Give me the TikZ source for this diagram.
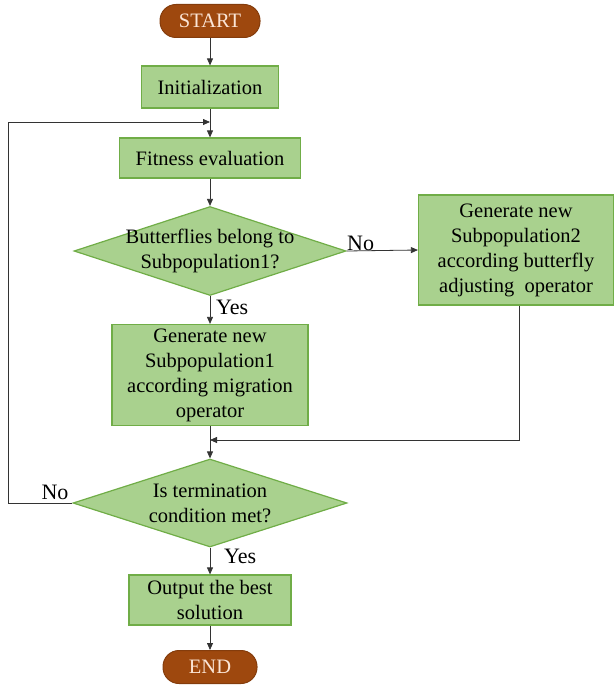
\documentclass[tikz,border=0pt]{standalone}
\usepackage{fontspec}
\setmainfont{Liberation Serif}
\usetikzlibrary{shapes.geometric,arrows.meta}
\definecolor{boxfill}{HTML}{A9D18E}
\definecolor{boxline}{HTML}{70AD47}
\definecolor{termfill}{HTML}{9E480E}
\definecolor{termline}{HTML}{843C0C}
\definecolor{termtext}{HTML}{FBE5D6}
\tikzset{
  txt/.style={font=\fontsize{20.5}{25}\selectfont},
  procbox/.style={txt, draw=boxline, fill=boxfill, line width=1.2pt, align=center, inner sep=0pt},
  decbox/.style={draw=boxline, fill=boxfill, line width=1.2pt, diamond, inner sep=0pt},
  dectext/.style={txt, align=center, inner sep=0pt},
  termbox/.style={txt, draw=termline, fill=termfill, line width=1pt, rounded corners=16pt, text=termtext, inner sep=0pt},
  flow/.style={draw=black!80, line width=0.8pt, -{Triangle[length=7pt,width=6pt]}},
  lbl/.style={font=\fontsize{22}{24}\selectfont, inner sep=0pt}
}
\begin{document}
\begin{tikzpicture}[x=1pt,y=-1pt]
\useasboundingbox (0,0) rectangle (614,685);
% terminals and process steps
\node[termbox, minimum width=100, minimum height=33] (start) at (210,21) {START};
\node[procbox, minimum width=137, minimum height=42] (init) at (210,87) {Initialization};
\node[procbox, minimum width=181, minimum height=40] (fit) at (210,158) {Fitness evaluation};
\node[decbox, minimum width=272, minimum height=89] (dec1) at (210,251) {};
\node[dectext] (dec1t) at (dec1.center) {Butterflies belong to\\Subpopulation1?};
\node[procbox, minimum width=195, minimum height=110] (gen2) at (516,250)
  {Generate new\\Subpopulation2\\according butterfly\\adjusting\ \ operator};
\node[procbox, minimum width=196, minimum height=101] (gen1) at (210,375)
  {Generate new\\Subpopulation1\\according migration\\operator};
\node[decbox, minimum width=274, minimum height=88] (dec2) at (210,503) {};
\node[dectext] (dec2t) at (dec2.center) {Is termination\\condition met?};
\node[procbox, minimum width=162, minimum height=50] (out) at (210,600)
  {Output the best\\solution};
\node[termbox, minimum width=94, minimum height=33] (end) at (210,667) {END};
% helper points of the connectors
\coordinate (loopin) at (210,122);
\coordinate (merge) at (210,440);
\coordinate (loopl) at (8,503);
\coordinate (loopt) at (8,122);
\coordinate (gen2b) at (519,440);
% connectors
\draw[flow] (start) -- (init);
\draw[flow] (init) -- (fit);
\draw[flow] (fit) -- (dec1.north);
\draw[flow] (dec1.east) -- (gen2.west);
\draw[flow] (dec1.south) -- (gen1.north);
\draw[flow] (gen1.south) -- (dec2.north);
\draw[flow] (gen2.south -| gen2b) -- (gen2b) -- (merge);
\draw[flow] (dec2.south) -- (out.north);
\draw[flow] (out) -- (end);
\draw[flow] (dec2.west) -- (loopl) -- (loopt) -- (loopin);
% branch labels
\node[lbl, anchor=south west] at (347,251) {No};
\node[lbl, anchor=north west] at (216,300) {Yes};
\node[lbl, anchor=north west] at (224,549) {Yes};
\node[lbl, anchor=south] at (55,500) {No};
\end{tikzpicture}
\end{document}
